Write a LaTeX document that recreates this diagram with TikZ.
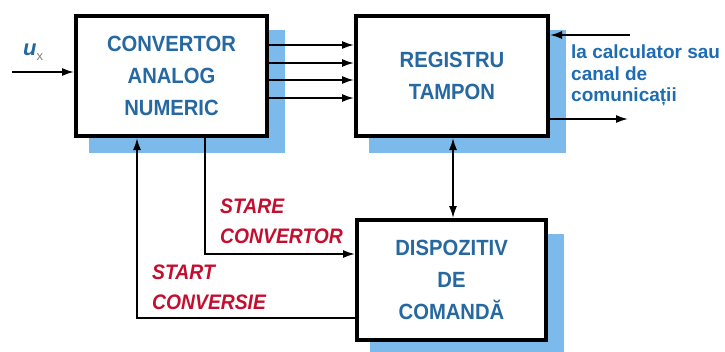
\documentclass[tikz,border=0pt]{standalone}
\usepackage{fontspec}
\setmainfont{Liberation Sans}
\newfontfamily\blocfont[FakeStretch=0.92]{Liberation Sans}
\usetikzlibrary{arrows.meta,shadows}
\definecolor{txtblue}{RGB}{38,104,160}
\definecolor{linkblue}{RGB}{30,108,178}
\definecolor{shadowblue}{RGB}{125,186,236}
\definecolor{semnalred}{RGB}{196,14,48}

\begin{document}
\begin{tikzpicture}[x=1pt,y=-1pt,>={Latex[length=12pt,width=8pt]},
  bloc/.style={draw,line width=4pt,fill=white,minimum width=191pt,minimum height=120pt,
    align=center,text=txtblue,font=\blocfont\bfseries\fontsize{22}{32}\selectfont,
    drop shadow={shadow xshift=15pt,shadow yshift=-15pt,shadow scale=1.03,fill=shadowblue,opacity=1}},
  semnal/.style={anchor=north west,inner sep=0pt,align=left,text=semnalred,
    font=\blocfont\bfseries\itshape\fontsize{21}{30}\selectfont},
  arr/.style={line width=1.7pt,->}]
  \useasboundingbox (0,0) rectangle (725,351);
  % blocurile
  \node[bloc] (can) at (171.5,76) {CONVERTOR\\ANALOG\\NUMERIC};
  \node[bloc,minimum width=192pt] (reg) at (452,76) {REGISTRU\\TAMPON};
  \node[bloc,minimum width=189pt] (dc) at (451.5,280) {DISPOZITIV\\DE\\COMANDĂ};
  % texte
  \node[anchor=base west,inner sep=0pt,text=txtblue,font=\bfseries\itshape\fontsize{22}{22}\selectfont] (ux)
    at (23,55) {u\raisebox{-5pt}{\color{gray}\normalfont\fontsize{13}{13}\selectfont x}};
  \node[anchor=north west,inner sep=0pt,align=left,text=linkblue,font=\bfseries\fontsize{19}{21.5}\selectfont] (dest)
    at (571,45) {la calculator sau\\canal de\\comunicații};
  \node[semnal] (stare) at (220,199) {STARE\\CONVERTOR};
  \node[semnal] (start) at (152,265) {START\\CONVERSIE};
  % legaturi
  \coordinate (in) at (12,72);
  \coordinate (pc) at (630,35);
  \coordinate (out) at (628,119);
  \draw[arr] (in) -- (in -| can.west);
  \foreach \y in {45,63,80,98}
    \draw[arr] (can.east |- 0,\y) -- (reg.west |- 0,\y);
  \draw[arr] (pc) -- (pc -| reg.east);
  \draw[arr] (reg.east |- out) -- (out);
  \draw[arr,<->] (reg.south -| 453,0) -- (dc.north -| 453,0);
  \draw[arr] (can.south -| 205,0) |- (dc.west |- 0,254);
  \draw[arr] (dc.west |- 0,318) -| (can.south -| 137,0);
\end{tikzpicture}
\end{document}
